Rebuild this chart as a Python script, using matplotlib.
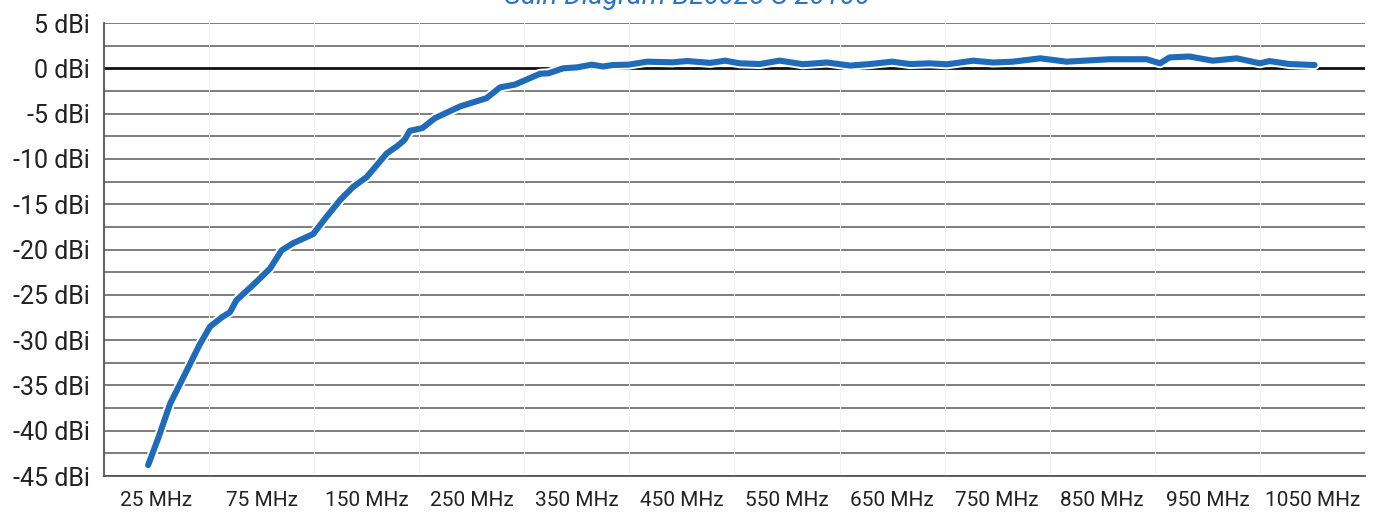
import matplotlib
matplotlib.use("Agg")
import matplotlib.pyplot as plt
import matplotlib.patheffects as pe
import numpy as np

plt.rcParams['font.family'] = ['Roboto', 'DejaVu Sans']

# category labels on the x axis (equally spaced)
freq_labels = ['25 MHz', '75 MHz', '150 MHz', '250 MHz', '350 MHz', '450 MHz',
               '550 MHz', '650 MHz', '750 MHz', '850 MHz', '950 MHz', '1050 MHz']

# gain curve, position along category axis + gain in dBi
curve_pos = [-0.08, 0.02, 0.13, 0.26, 0.41, 0.51, 0.62, 0.70, 0.76, 0.92,
             1.08, 1.19, 1.30, 1.49, 1.61, 1.75, 1.87, 2.00, 2.19, 2.30,
             2.36, 2.41, 2.53, 2.65, 2.89, 3.14, 3.27, 3.41, 3.65, 3.73,
             3.87, 4.00, 4.14, 4.25, 4.34, 4.49, 4.67, 4.91, 5.05, 5.27,
             5.41, 5.55, 5.74, 5.93, 6.15, 6.38, 6.60, 6.79, 7.00, 7.17,
             7.36, 7.52, 7.77, 7.96, 8.15, 8.41, 8.66, 9.07, 9.42, 9.55,
             9.64, 9.83, 10.05, 10.28, 10.50, 10.59, 10.78, 11.02]
gain_dbi = [-43.8, -40.7, -37.0, -34.0, -30.5, -28.5, -27.5, -26.9, -25.6, -23.9,
            -22.1, -20.1, -19.3, -18.3, -16.5, -14.5, -13.1, -12.0, -9.4, -8.5,
            -7.9, -6.9, -6.6, -5.5, -4.2, -3.3, -2.1, -1.8, -0.6, -0.55,
            0.0, 0.1, 0.4, 0.2, 0.36, 0.4, 0.73, 0.66, 0.8, 0.6,
            0.84, 0.55, 0.47, 0.85, 0.45, 0.64, 0.3, 0.47, 0.73, 0.47,
            0.55, 0.44, 0.84, 0.64, 0.73, 1.1, 0.73, 1.0, 1.0, 0.55,
            1.2, 1.3, 0.84, 1.1, 0.55, 0.8, 0.47, 0.36]

y_major = np.arange(-45, 6, 5)
y_minor = np.arange(-42.5, 5, 5)

fig = plt.figure(figsize=(13.79, 5.14), dpi=100)
ax = fig.add_axes([104/1379, 1 - 476/514, (1365 - 104)/1379, (476 - 23)/514])

ax.set_xlim(-0.5, len(freq_labels) - 0.5)
ax.set_ylim(-45, 5)

# horizontal grid every 2.5 dBi
for y in list(y_major) + list(y_minor):
    if y == 0:
        ax.axhline(y, color='#111111', lw=2.0, zorder=2)
    else:
        ax.axhline(y, color='#5a5a5a', lw=1.1, zorder=1)

# separators between categories only show as light breaks in the grid
for b in np.arange(0.5, len(freq_labels) - 0.5, 1):
    ax.axvline(b, color='#f2f2f2', lw=0.8, zorder=1.5)

ax.plot(curve_pos, gain_dbi, color='#1f6bb8', lw=4.4, solid_capstyle='round',
        solid_joinstyle='round', zorder=3,
        path_effects=[pe.Stroke(linewidth=7.2, foreground='white'), pe.Normal()])

ax.set_yticks(y_major)
ax.set_yticklabels([f'{int(v)} dBi' for v in y_major])
ax.set_xticks(range(len(freq_labels)))
ax.set_xticklabels(freq_labels)
ax.tick_params(axis='y', length=0, pad=10, labelsize=18, labelcolor='#222222')
ax.tick_params(axis='x', length=0, pad=11, labelsize=15, labelcolor='#222222')

for s in ['top', 'right']:
    ax.spines[s].set_visible(False)
ax.spines['left'].set_color('#555555')
ax.spines['left'].set_linewidth(1.3)
ax.spines['bottom'].set_color('#555555')
ax.spines['bottom'].set_linewidth(1.3)

fig.text(0.498, 1 - 4/514, 'Gain Diagram BL6025-S 20100', ha='center', va='baseline',
         fontsize=20, style='italic', color='#2a74c6')

fig.savefig('out.png', dpi=100)
